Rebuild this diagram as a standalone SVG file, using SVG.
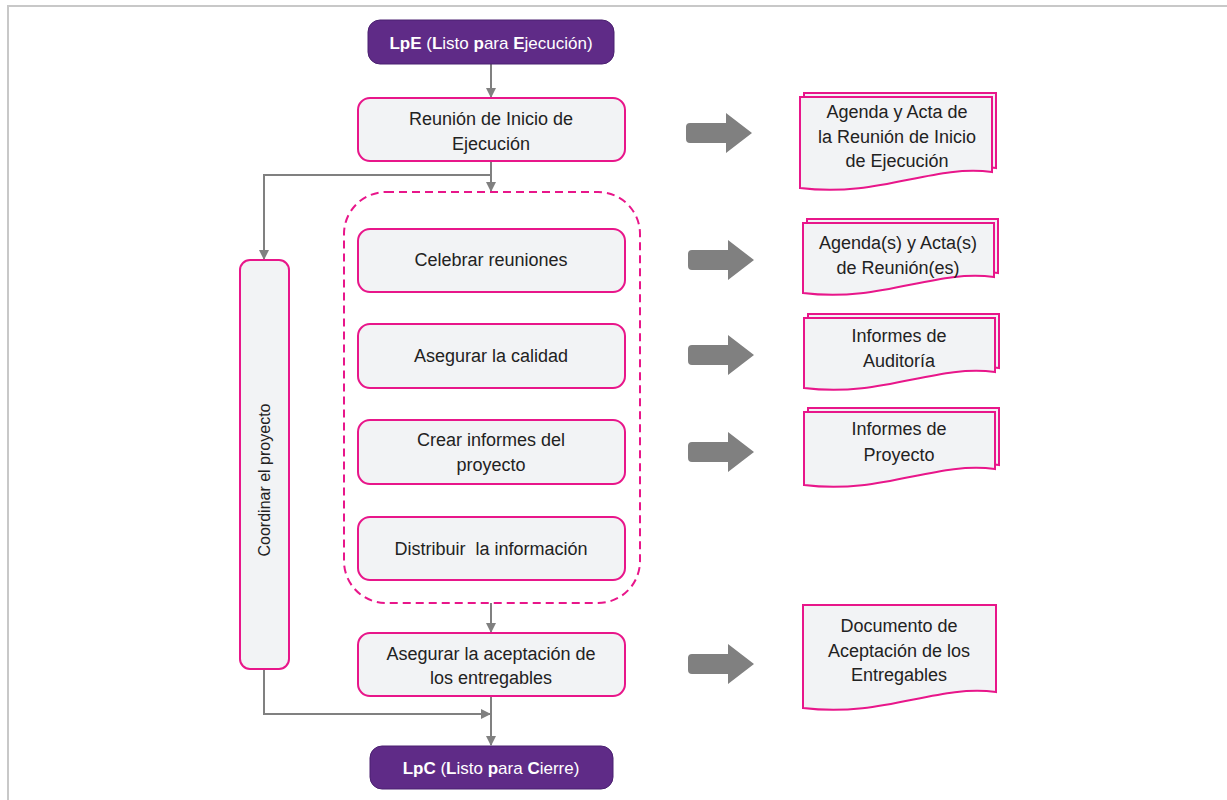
<svg xmlns="http://www.w3.org/2000/svg" xmlns:xlink="http://www.w3.org/1999/xlink" width="1227" height="800" viewBox="0 0 1227 800">
<style>
text{font-family:"Liberation Sans",Arial,sans-serif;font-size:18px;fill:#222;text-anchor:middle}
.proc{fill:#f2f3f5;stroke:#e8168a;stroke-width:2}
.term{fill:#5f2b87;stroke:#4a2070;stroke-width:1}
.tt{fill:#fff;font-size:17px}
.b{font-weight:bold}
.doc{fill:#f2f3f5;stroke:#e8168a;stroke-width:2}
.con{fill:none;stroke:#808080;stroke-width:2}
.blk{fill:#808080}
.pre{white-space:pre}
</style>
<defs>
<marker id="ah" viewBox="0 0 10 10" refX="9" refY="5" markerWidth="5" markerHeight="5" orient="auto" markerUnits="strokeWidth">
<path d="M0,0 L10,5 L0,10 Z" fill="#808080"/>
</marker>
<path id="blkarrow" d="M4,-10 H40 V-20 L66,0 L40,20 V10 H4 Q0,10 0,6 V-6 Q0,-10 4,-10 Z"/>
</defs>
<rect width="1227" height="800" fill="#fff"/>
<path d="M8,800 V6 H1227" fill="none" stroke="#c8c8c8" stroke-width="2"/>

<g id="connectors">
<path class="con" d="M491,64 V97" marker-end="url(#ah)"/>
<path class="con" d="M491,161 V191" marker-end="url(#ah)"/>
<path class="con" d="M491,175 H264 V259" marker-end="url(#ah)"/>
<path class="con" d="M491,603 V632" marker-end="url(#ah)"/>
<path class="con" d="M264,669 V714 H490" marker-end="url(#ah)"/>
<path class="con" d="M491,696 V745" marker-end="url(#ah)"/>
<use xlink:href="#blkarrow" class="blk" x="686" y="133"/>
<use xlink:href="#blkarrow" class="blk" x="688" y="260"/>
<use xlink:href="#blkarrow" class="blk" x="688" y="355"/>
<use xlink:href="#blkarrow" class="blk" x="688" y="452"/>
<use xlink:href="#blkarrow" class="blk" x="688" y="664"/>
</g>

<g id="lpe">
<rect class="term" x="368" y="20" width="246" height="44" rx="12"/>
<text class="tt" x="491" y="49"><tspan class="b">LpE</tspan> (<tspan class="b">L</tspan>isto <tspan class="b">p</tspan>ara <tspan class="b">E</tspan>jecución)</text>
</g>

<g id="reunion-inicio">
<rect class="proc" x="358" y="98" width="267" height="63" rx="12"/>
<text x="491" y="125">Reunión de Inicio de</text>
<text x="491" y="150">Ejecución</text>
</g>

<g id="coordinar">
<rect class="proc" x="240" y="260" width="49" height="409" rx="10"/>
<text transform="translate(270,480) rotate(-90)" x="0" y="0" style="font-size:16px">Coordinar el proyecto</text>
</g>

<g id="grupo">
<rect x="344" y="192" width="296" height="411" rx="42" fill="none" stroke="#e8168a" stroke-width="2" stroke-dasharray="8,5"/>
</g>

<g id="celebrar">
<rect class="proc" x="358" y="229" width="267" height="63" rx="12"/>
<text x="491" y="266">Celebrar reuniones</text>
</g>

<g id="calidad">
<rect class="proc" x="358" y="324" width="267" height="64" rx="12"/>
<text x="491" y="362">Asegurar la calidad</text>
</g>

<g id="informes">
<rect class="proc" x="358" y="420" width="267" height="64" rx="12"/>
<text x="491" y="446">Crear informes del</text>
<text x="491" y="471">proyecto</text>
</g>

<g id="distribuir">
<rect class="proc" x="358" y="517" width="267" height="63" rx="12"/>
<text class="pre" x="491" y="555">Distribuir  la información</text>
</g>

<g id="aceptacion">
<rect class="proc" x="358" y="633" width="267" height="63" rx="12"/>
<text x="491" y="660">Asegurar la aceptación de</text>
<text x="491" y="684">los entregables</text>
</g>

<g id="lpc">
<rect class="term" x="370" y="746" width="243" height="43" rx="12"/>
<text class="tt" x="491" y="774"><tspan class="b">LpC</tspan> (<tspan class="b">L</tspan>isto <tspan class="b">p</tspan>ara <tspan class="b">C</tspan>ierre)</text>
</g>

<g id="doc1">
<path class="doc" d="M804,93 H996 V168 C936,160 884,194 804,184 Z"/>
<path class="doc" d="M800,97 H992 V172 C932,164 880,198 800,188 Z"/>
<text x="897" y="118">Agenda y Acta de</text>
<text x="897" y="143">la Reunión de Inicio</text>
<text x="897" y="167">de Ejecución</text>
</g>

<g id="doc2">
<path class="doc" d="M807,219 H998 V273 C938,265 886,299 807,289 Z"/>
<path class="doc" d="M803,223 H994 V277 C934,269 882,303 803,293 Z"/>
<text x="898" y="249">Agenda(s) y Acta(s)</text>
<text x="898" y="274">de Reunión(es)</text>
</g>

<g id="doc3">
<path class="doc" d="M808,314 H999 V368 C939,360 887,394 808,384 Z"/>
<path class="doc" d="M804,318 H995 V372 C935,364 883,398 804,388 Z"/>
<text x="899" y="342">Informes de</text>
<text x="899" y="367">Auditoría</text>
</g>

<g id="doc4">
<path class="doc" d="M808,408 H999 V465 C939,457 887,491 808,481 Z"/>
<path class="doc" d="M804,412 H995 V469 C935,461 883,495 804,485 Z"/>
<text x="899" y="435">Informes de</text>
<text x="899" y="461">Proyecto</text>
</g>

<g id="doc5">
<path class="doc" d="M803,605 H996 V692 C936,684 884,718 803,708 Z"/>
<text x="899" y="632">Documento de</text>
<text x="899" y="657">Aceptación de los</text>
<text x="899" y="681">Entregables</text>
</g>
</svg>
